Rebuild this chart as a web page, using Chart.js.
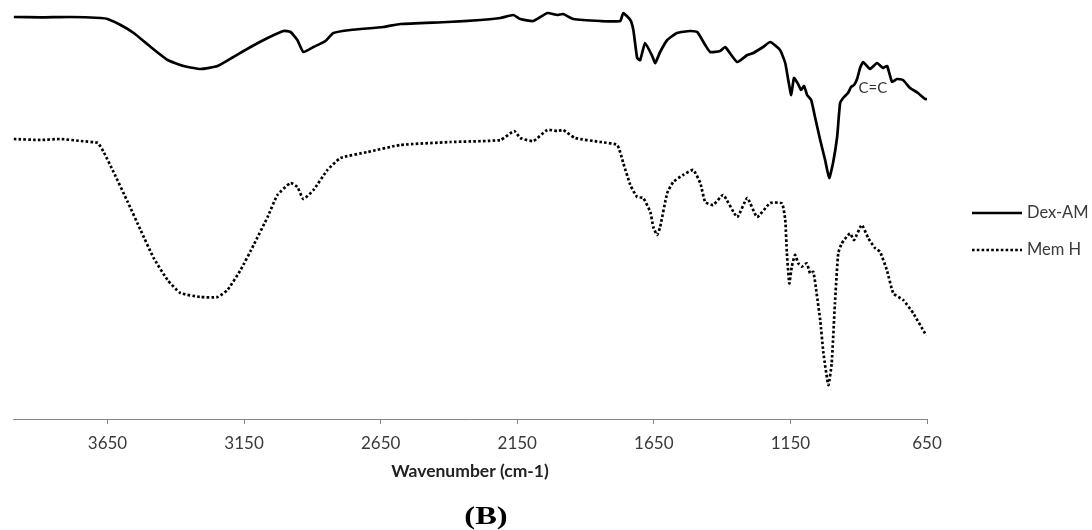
<!DOCTYPE html>
<html>
<head>
<meta charset="utf-8">
<title>FTIR</title>
<script src="https://cdn.jsdelivr.net/npm/chart.js@4.4.0/dist/chart.umd.min.js"></script>
<style>
html, body { margin : 0; padding : 0; background : #fff; }
#ftir { display : block; }
</style>
</head>
<body>
<canvas id="ftir" width="1092" height="530"></canvas>
<script>
// wavenumber (cm-1) and transmittance (a.u.) for each spectrum
const dexWavenumber = [ 3993, 3895, 3785, 3675, 3650, 3602, 3554, 3492, 3430, 3372,
		3309, 3247, 3189, 3126, 3064, 3006, 2980, 2955, 2933, 2896,
		2852, 2823, 2761, 2640, 2578, 2406, 2285, 2212, 2164, 2139,
		2091, 2040, 2003, 1982, 1945, 1846, 1773, 1762, 1736, 1725,
		1711, 1700, 1682, 1656, 1645, 1627, 1601, 1565, 1517, 1491,
		1462, 1444, 1407, 1389, 1345, 1308, 1286, 1250, 1224, 1188,
		1169, 1158, 1147, 1137, 1122, 1111, 1100, 1089, 1074, 1060,
		1041, 1023, 1008, 994, 979, 968, 954, 939, 928, 917,
		906, 895, 884, 859, 833, 811, 796, 778, 760, 738,
		712, 683, 657, 650 ];
const dexT = [ 100.5, 100.4, 100.5, 100.25, 100, 98.5, 96.5, 93, 89.75, 88.25,
		87.5, 88.25, 90.5, 93, 95.25, 97, 96.75, 94.75, 91.75, 93,
		94.5, 96.5, 97.25, 98, 98.75, 99.25, 99.75, 100.25, 101, 100,
		99.5, 101.5, 101, 101.25, 100, 99.5, 99.5, 101.5, 99.75, 97.25,
		90.25, 89.75, 94, 90.75, 89, 91.75, 94.75, 96.5, 97, 96.75,
		93.5, 91.75, 92, 93, 89.25, 91, 91.5, 93, 94.25, 92.25,
		89, 84.75, 81, 85.25, 83.75, 82.25, 83.25, 81, 79.75, 75.5,
		69.75, 64.75, 60.25, 64, 70.5, 79, 80.5, 81.5, 83, 83.5,
		85, 87.75, 89.25, 87.5, 89, 87.75, 88.25, 84.25, 85, 84.75,
		82.75, 81.5, 80, 80 ];

const memWavenumber = [ 3993, 3895, 3822, 3748, 3686, 3664, 3628, 3576, 3529, 3481,
		3430, 3383, 3309, 3247, 3211, 3163, 3115, 3064, 3028, 2980,
		2955, 2933, 2896, 2845, 2797, 2698, 2578, 2395, 2212, 2161,
		2139, 2091, 2040, 2003, 1982, 1938, 1846, 1784, 1762, 1736,
		1711, 1689, 1663, 1652, 1638, 1627, 1601, 1579, 1543, 1506,
		1480, 1462, 1433, 1396, 1345, 1308, 1272, 1224, 1181, 1169,
		1163, 1154, 1145, 1133, 1121, 1108, 1090, 1078, 1066, 1054,
		1041, 1029, 1011, 999, 987, 975, 962, 932, 917, 889,
		865, 840, 822, 797, 773, 737, 700, 657, 650 ];
const memT = [ 70, 69.75, 70, 69.5, 69, 66.75, 61.75, 54.25, 47.25, 40.25,
		34.75, 31.5, 30.5, 30.5, 32.25, 37.25, 43.5, 50.5, 56, 59,
		58, 55, 57.25, 62.25, 65.25, 66.75, 68.5, 69.25, 69.75, 72,
		70.25, 69.5, 72.25, 72, 72.25, 70.25, 69.25, 68.5, 64, 58.5,
		55.5, 55.25, 51.75, 48, 46, 48, 56.5, 59.25, 61, 62.25,
		59, 54.25, 53.5, 56, 50.5, 55.25, 50.5, 54, 53.9, 49.75,
		41.5, 33.9, 38.1, 41, 38.9, 38.1, 38.9, 36.4, 36.8, 31.4,
		24.75, 16.4, 8.5, 13.9, 28.9, 41.4, 43.9, 46.4, 44.75, 48.5,
		45.2, 42.7, 41.8, 37.25, 31.4, 29.75, 26.4, 21.4, 21 ];

const tickValues = [ 3650, 3150, 2650, 2150, 1650, 1150, 650 ];
const seriesNames = [ 'Dex-AM', 'Mem H' ];
const bandLabel = { text : 'C=C', wavenumber : 848, value : 82.75 };

function toPoints(xs, ys) {
	return xs.map(function(x, i) {
		return { x : x, y : ys[i] };
	});
}

// legend, band label and panel letter
const extras = {
	id : 'extras',
	afterDraw : function(chart) {
		const ctx = chart.ctx;
		const area = chart.chartArea;
		const xs = chart.scales.x;
		const ys = chart.scales.y;
		ctx.save();

		ctx.fillStyle = '#333';
		ctx.font = '15px Lato';
		ctx.textAlign = 'center';
		ctx.textBaseline = 'middle';
		ctx.fillText(bandLabel.text, xs.getPixelForValue(bandLabel.wavenumber),
				ys.getPixelForValue(bandLabel.value));

		chart.data.datasets.forEach(function(ds, i) {
			const y = 213 + i * 37;
			const x0 = area.right + 45;
			ctx.beginPath();
			ctx.setLineDash(ds.borderDash || []);
			ctx.lineWidth = ds.borderWidth;
			ctx.strokeStyle = ds.borderColor;
			ctx.moveTo(x0, y);
			ctx.lineTo(x0 + 50, y);
			ctx.stroke();
			ctx.setLineDash([]);
			ctx.textAlign = 'left';
			ctx.fillStyle = '#3a3a3a';
			ctx.font = '16.5px Lato';
			ctx.fillText(ds.label, x0 + 55, y);
		});

		ctx.font = 'bold 26px "Liberation Serif"';
		ctx.fillStyle = '#000';
		ctx.textAlign = 'center';
		ctx.translate((area.left + area.right) / 2 + 16, 517);
		ctx.scale(1.25, 1);
		ctx.fillText('(B)', 0, 0);
		ctx.restore();
	}
};

function draw() {
	new Chart(document.getElementById('ftir'), {
		type : 'line',
		data : {
			datasets : [ {
				label : seriesNames[0],
				data : toPoints(dexWavenumber, dexT),
				borderColor : '#000',
				borderWidth : 2.7,
				pointRadius : 0,
				tension : 0.15
			}, {
				label : seriesNames[1],
				data : toPoints(memWavenumber, memT),
				borderColor : '#000',
				borderWidth : 2.7,
				borderDash : [ 2.6, 2.2 ],
				pointRadius : 0,
				tension : 0.15
			} ]
		},
		options : {
			responsive : false,
			animation : false,
			layout : { padding : { left : 13, right : 165, top : 9, bottom : 0 } },
			plugins : {
				legend : { display : false },
				tooltip : { enabled : false }
			},
			scales : {
				x : {
					type : 'linear',
					reverse : true,
					min : 650,
					max : 3996,
					afterBuildTicks : function(scale) {
						scale.ticks = tickValues.map(function(v) {
							return { value : v };
						});
					},
					afterFit : function(scale) {
						scale.height = 111;
					},
					grid : {
						drawOnChartArea : false,
						drawTicks : true,
						tickLength : 5,
						color : '#868686'
					},
					border : { color : '#868686', width : 1 },
					ticks : {
						color : '#3a3a3a',
						font : { family : 'Lato', size : 17 },
						padding : 9,
						maxRotation : 0,
						autoSkip : false,
						callback : function(value) {
							return String(value);
						}
					},
					title : {
						display : true,
						text : 'Wavenumber (cm-1)',
						color : '#222',
						font : { family : 'Lato', size : 17.5, weight : 'bold' },
						padding : { top : 4, bottom : 48 }
					}
				},
				y : { display : false, min : 0, max : 102.5 }
			}
		},
		plugins : [ extras ]
	});
}

Promise.all([ document.fonts.load('16px Lato'), document.fonts.load('bold 16px Lato'),
		document.fonts.load('bold 26px "Liberation Serif"') ]).then(draw, draw);
</script>
</body>
</html>
